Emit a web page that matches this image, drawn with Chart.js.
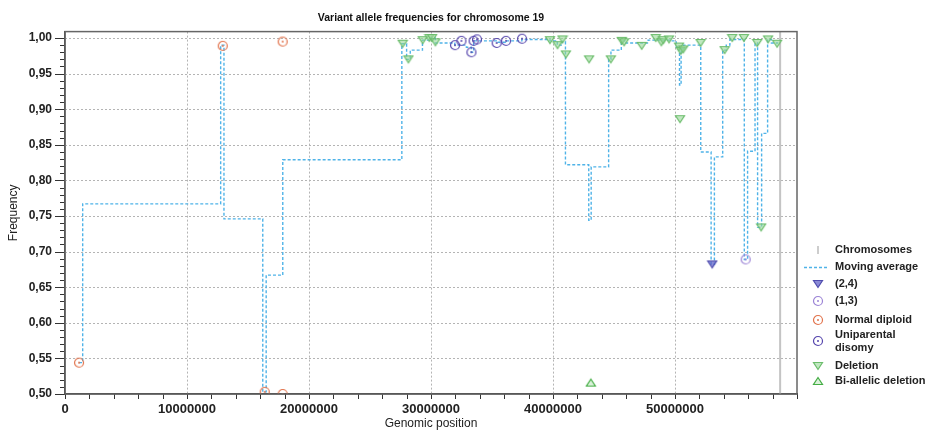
<!DOCTYPE html>
<html>
<head>
<meta charset="utf-8">
<title>Variant allele frequencies</title>
<script src="https://cdn.jsdelivr.net/npm/chart.js@4.4.0/dist/chart.umd.min.js"></script>
<style>
  html, body { margin: 0; padding: 0; background: #fff; }
  #wrap { width: 925px; height: 431px; }
</style>
</head>
<body>
<div id="wrap"><canvas id="vafChart" width="925" height="431"></canvas></div>
<script>
// Chromosome 19 end (bp)
const chromosomeEnds = [58617616];

// Moving average, stepped: each value holds until the next position
const maPos = [1150000, 1450000, 12760000, 13030000, 16210000, 16490000, 17850000, 27610000,
  28000000, 28300000, 29300000, 29850000, 30350000, 31950000, 32900000, 33300000, 33500000,
  35350000, 36100000, 37450000, 39750000, 40350000, 40750000, 41020000, 42930000, 43130000,
  44560000, 44750000, 45600000, 45900000, 47800000, 49600000, 50100000, 50370000, 50500000,
  50700000, 52110000, 52960000, 53230000, 53910000, 54200000, 54500000, 55680000, 55950000,
  56560000, 56770000, 57100000, 57590000, 57900000, 58400000];
const maFreq = [0.544, 0.767, 0.990, 0.746, 0.503, 0.667, 0.829, 0.992,
  0.970, 0.983, 0.997, 1.000, 0.993, 0.990, 0.987, 0.980, 0.996,
  0.994, 0.996, 0.998, 0.996, 0.990, 0.995, 0.822, 0.744, 0.819,
  0.970, 0.983, 0.996, 0.993, 0.997, 0.996, 0.987, 0.934, 0.985,
  0.990, 0.840, 0.682, 0.833, 0.983, 0.990, 0.998, 0.689, 0.841,
  0.993, 0.734, 0.866, 0.998, 0.993, 0.992];

const twoFourPos = [53050000];
const twoFourFreq = [0.682];

const oneThreePos = [55790000];
const oneThreeFreq = [0.689];

const normalPos = [1150000, 12930000, 16370000, 17840000, 17840000];
const normalFreq = [0.544, 0.989, 0.503, 0.500, 0.995];

const updPos = [31970000, 32490000, 33310000, 33490000, 33770000, 35380000, 36150000, 37460000];
const updFreq = [0.990, 0.996, 0.980, 0.996, 0.998, 0.993, 0.996, 0.999];

const deletionPos = [27680000, 28150000, 29320000, 29870000, 30090000, 30360000, 39750000,
  40370000, 40780000, 41060000, 42960000, 44740000, 45640000, 45830000, 47270000, 48420000,
  48880000, 49040000, 49510000, 50330000, 50410000, 50470000, 50680000, 52100000, 54070000,
  54690000, 55650000, 56740000, 57060000, 57630000, 58370000];
const deletionFreq = [0.992, 0.970, 0.997, 1.000, 1.000, 0.994, 0.997,
  0.990, 0.998, 0.977, 0.970, 0.970, 0.996, 0.994, 0.989, 1.000,
  0.994, 0.997, 0.998, 0.988, 0.886, 0.982, 0.984, 0.993, 0.983,
  1.000, 1.000, 0.993, 0.734, 0.998, 0.992];

const biallelicPos = [43100000];
const biallelicFreq = [0.516];

// major grid values
const xGridValues = [10000000, 20000000, 30000000, 40000000, 50000000];
const yGridValues = [0.55, 0.60, 0.65, 0.70, 0.75, 0.80, 0.85, 0.90, 0.95, 1.00];

function toPoints(xs, ys) {
  return xs.map((x, i) => ({ x: x, y: ys[i] }));
}

// small marker bitmaps used as point styles and in the legend
function makeMarker(kind, stroke, fill) {
  const c = document.createElement('canvas');
  c.width = 12;
  c.height = 12;
  const g = c.getContext('2d');
  g.strokeStyle = stroke;
  g.lineWidth = 1.2;
  if (kind === 'ring') {
    g.beginPath();
    g.arc(6, 6, 4.5, 0, Math.PI * 2);
    g.stroke();
    g.fillStyle = stroke;
    g.beginPath();
    g.arc(6, 6, 1, 0, Math.PI * 2);
    g.fill();
  } else {
    g.beginPath();
    if (kind === 'down') {
      g.moveTo(1.5, 2.5); g.lineTo(10.5, 2.5); g.lineTo(6, 9.5);
    } else {
      g.moveTo(1.5, 9.5); g.lineTo(10.5, 9.5); g.lineTo(6, 2.5);
    }
    g.closePath();
    g.fillStyle = fill;
    g.fill();
    g.stroke();
  }
  return c;
}

const markers = {
  twoFour: makeMarker('down', '#4f4cae', 'rgba(100,100,200,0.75)'),
  oneThree: makeMarker('ring', '#9c84d6'),
  normal: makeMarker('ring', '#e2734c'),
  upd: makeMarker('ring', '#5646ad'),
  deletion: makeMarker('down', '#6cbd6c', 'rgba(150,215,150,0.6)'),
  biallelic: makeMarker('up', '#44ad44', 'rgba(150,215,150,0.35)')
};

function markerSet(label, xs, ys, img) {
  return {
    label: label,
    data: toPoints(xs, ys),
    pointStyle: img,
    pointRadius: 5,
    showLine: false,
    order: 1
  };
}

// dotted grid under the data
const gridPlugin = {
  id: 'dottedGrid',
  beforeDatasetsDraw(chart) {
    const ctx = chart.ctx;
    const a = chart.chartArea;
    const xs = chart.scales.x;
    const ys = chart.scales.y;
    ctx.save();
    ctx.strokeStyle = '#b4b4b4';
    ctx.lineWidth = 1;
    ctx.setLineDash([2, 2]);
    ctx.beginPath();
    xGridValues.forEach(v => {
      const px = Math.round(xs.getPixelForValue(v)) + 0.5;
      ctx.moveTo(px, a.top);
      ctx.lineTo(px, a.bottom);
    });
    yGridValues.forEach(v => {
      const py = Math.round(ys.getPixelForValue(v)) + 0.5;
      ctx.moveTo(a.left, py);
      ctx.lineTo(a.right, py);
    });
    ctx.stroke();
    ctx.restore();
  }
};

// tick marks, plot frame and legend
const framePlugin = {
  id: 'frame',
  afterDraw(chart) {
    const ctx = chart.ctx;
    const a = chart.chartArea;
    const xs = chart.scales.x;
    const ys = chart.scales.y;
    ctx.save();
    ctx.strokeStyle = '#333';
    ctx.lineWidth = 1;
    ctx.beginPath();
    for (let k = 50; k <= 100; k++) {
      const py = Math.round(ys.getPixelForValue(k / 100)) + 0.5;
      const len = k % 5 === 0 ? 10 : 5;
      ctx.moveTo(a.left - len, py);
      ctx.lineTo(a.left, py);
    }
    for (let k = 0; k <= 30; k++) {
      const px = Math.round(xs.getPixelForValue(k * 2000000)) + 0.5;
      ctx.moveTo(px, a.bottom);
      ctx.lineTo(px, a.bottom + 5);
    }
    ctx.stroke();

    ctx.strokeStyle = '#666';
    ctx.lineWidth = 1.5;
    ctx.strokeRect(a.left, a.top, a.right - a.left, a.bottom - a.top);

    // legend
    const lx = 818, tx = 835;
    ctx.font = 'bold 11px "Liberation Sans", Arial, sans-serif';
    ctx.fillStyle = '#222';
    ctx.textBaseline = 'middle';
    ctx.textAlign = 'left';

    ctx.strokeStyle = '#bdbdbd';
    ctx.lineWidth = 1.5;
    ctx.beginPath();
    ctx.moveTo(lx, 246); ctx.lineTo(lx, 254);
    ctx.stroke();
    ctx.fillText('Chromosomes', tx, 250);

    ctx.strokeStyle = '#4fb3e8';
    ctx.lineWidth = 1.4;
    ctx.setLineDash([3, 2]);
    ctx.beginPath();
    ctx.moveTo(804, 267.5); ctx.lineTo(829, 267.5);
    ctx.stroke();
    ctx.setLineDash([]);
    ctx.fillText('Moving average', tx, 267);

    const rows = [
      [markers.twoFour, 284, ['(2,4)']],
      [markers.oneThree, 301, ['(1,3)']],
      [markers.normal, 320, ['Normal diploid']],
      [markers.upd, 341, ['Uniparental', 'disomy']],
      [markers.deletion, 366, ['Deletion']],
      [markers.biallelic, 381, ['Bi-allelic deletion']]
    ];
    rows.forEach(r => {
      ctx.drawImage(r[0], lx - 6, r[1] - 6);
      if (r[2].length === 1) {
        ctx.fillText(r[2][0], tx, r[1]);
      } else {
        ctx.fillText(r[2][0], tx, r[1] - 6.5);
        ctx.fillText(r[2][1], tx, r[1] + 6.5);
      }
    });
    ctx.restore();
  }
};

const noLine = 'rgba(0,0,0,0)';

new Chart(document.getElementById('vafChart'), {
  type: 'scatter',
  data: {
    datasets: [
      {
        label: 'Chromosomes',
        data: [{ x: chromosomeEnds[0], y: 0.5 }, { x: chromosomeEnds[0], y: 1.009 }],
        showLine: true,
        borderColor: '#c4c4c4',
        borderWidth: 2,
        pointRadius: 0,
        order: 10
      },
      {
        label: 'Moving average',
        data: toPoints(maPos, maFreq),
        showLine: true,
        stepped: 'before',
        borderColor: '#4fb3e8',
        borderWidth: 1.4,
        borderDash: [3, 2],
        pointRadius: 0,
        order: 9
      },
      markerSet('(2,4)', twoFourPos, twoFourFreq, markers.twoFour),
      markerSet('(1,3)', oneThreePos, oneThreeFreq, markers.oneThree),
      markerSet('Normal diploid', normalPos, normalFreq, markers.normal),
      markerSet('Uniparental disomy', updPos, updFreq, markers.upd),
      markerSet('Deletion', deletionPos, deletionFreq, markers.deletion),
      markerSet('Bi-allelic deletion', biallelicPos, biallelicFreq, markers.biallelic)
    ]
  },
  options: {
    responsive: false,
    animation: false,
    layout: { padding: { top: 0, right: 128, bottom: 0, left: 0 } },
    plugins: {
      legend: { display: false },
      tooltip: { enabled: false },
      title: {
        display: true,
        fullSize: false,
        text: 'Variant allele frequencies for chromosome 19',
        color: '#111',
        font: { family: '"Liberation Sans", Arial, sans-serif', size: 10.5, weight: 'bold' },
        padding: { top: 12, bottom: 7 }
      }
    },
    scales: {
      x: {
        type: 'linear',
        min: 0,
        max: 60000000,
        afterFit: s => { s.height = 37; },
        ticks: {
          stepSize: 2000000,
          autoSkip: false,
          includeBounds: false,
          maxRotation: 0,
          padding: 2,
          color: '#222',
          font: { family: '"Liberation Sans", Arial, sans-serif', size: 13, weight: 'bold' },
          callback: v => (v % 10000000 === 0 && v < 60000000) ? String(v) : ''
        },
        grid: { color: noLine, tickLength: 6, tickColor: noLine },
        border: { display: true, color: '#333', width: 1.5 },
        title: {
          display: true,
          text: 'Genomic position',
          color: '#222',
          font: { family: '"Liberation Sans", Arial, sans-serif', size: 12 },
          padding: { top: 2, bottom: 0 }
        }
      },
      y: {
        min: 0.5,
        max: 1.009,
        afterFit: s => { s.width = 65; },
        ticks: {
          stepSize: 0.01,
          autoSkip: false,
          includeBounds: false,
          padding: 3,
          color: '#222',
          font: { family: '"Liberation Sans", Arial, sans-serif', size: 12, weight: 'bold' },
          callback: v => (Math.round(v * 100) % 5 === 0) ? v.toFixed(2).replace('.', ',') : ''
        },
        grid: { color: noLine, tickLength: 10, tickColor: noLine },
        border: { display: true, color: '#333', width: 1.5 },
        title: {
          display: true,
          text: 'Frequency',
          color: '#222',
          font: { family: '"Liberation Sans", Arial, sans-serif', size: 12 },
          padding: { top: 6, bottom: 0 }
        }
      }
    }
  },
  plugins: [gridPlugin, framePlugin]
});
</script>
</body>
</html>
